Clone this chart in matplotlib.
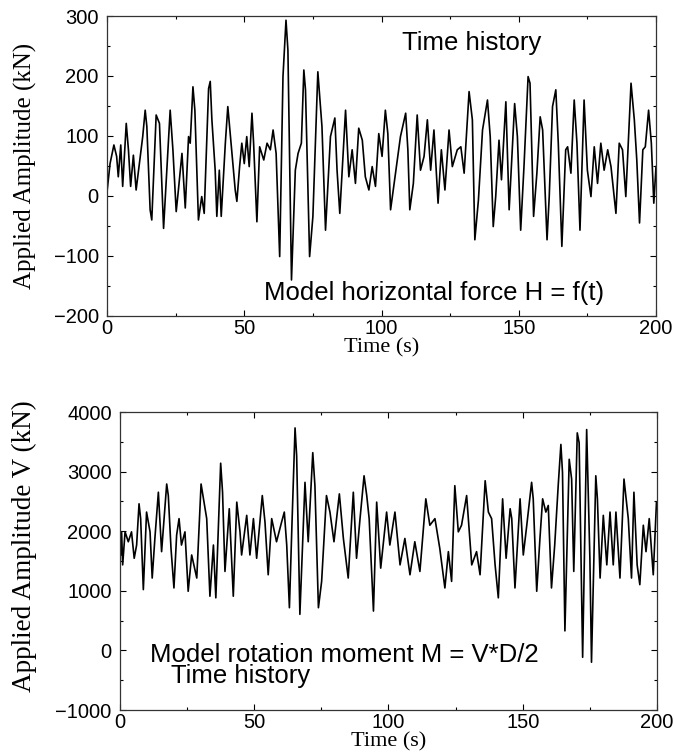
import matplotlib
matplotlib.use('Agg')
import matplotlib.pyplot as plt
from matplotlib.ticker import MultipleLocator

SANS = 'Liberation Sans'
SERIF = 'Liberation Serif'

# horizontal force H = f(t)
h_time = [0, 1.1, 2.5, 3.5, 4.1, 5, 5.7, 7, 7.8, 8.6, 9.6, 10.6, 11.8, 13, 13.9,
          14.5, 15.7, 16.3, 17.9, 19.1, 20.6, 21.5, 23, 24, 25.2, 26, 27.3, 28.5,
          29.7, 30.3, 31.3, 32, 33.3, 34.5, 35.4, 37, 37.6, 38.2, 39.4, 40, 40.9,
          41.6, 43.1, 44, 45.5, 46.7, 47.3, 48.3, 49.1, 50, 50.9, 51.8, 52.8, 53.4,
          54.6, 55.6, 57.1, 58.3, 59.5, 60.5, 61.6, 62.9, 64.1, 65.2, 65.9, 67.2,
          68.6, 69.6, 70.8, 71.7, 72.3, 73.8, 75, 76.8, 78.3, 79.6, 81.4, 83, 83.8,
          84.8, 86.9, 88.1, 89.3, 90.5, 91.7, 93, 94.1, 95.4, 96.6, 97.8, 99, 100.2,
          101.4, 102.3, 103.3, 105.1, 106.9, 108.8, 109.6, 110.3, 111.6, 113, 114.2,
          115.5, 116.7, 117.9, 119.1, 120.6, 121.8, 123.1, 124.6, 125.8, 127.6,
          128.9, 130.1, 131.9, 133.1, 134, 135.3, 136.8, 138.6, 139.6, 140.7, 141.6,
          142.8, 143.7, 145.3, 146.5, 148.5, 149.5, 150.7, 151.9, 153.4, 154.1,
          155.4, 156.6, 157.8, 158.7, 160.3, 161.1, 162.3, 163.5, 164.4, 165.7,
          167.1, 167.8, 169, 170.2, 171.2, 172.3, 173.8, 175, 176.3, 177.5, 178.7,
          179.9, 181.1, 182.4, 183.6, 185.4, 186.6, 187.8, 189, 190.9, 192.1, 193,
          194, 195.2, 196.1, 197.3, 198.3, 199.2, 200]
h_force = [7, 54, 85, 66, 32, 85, 16, 121, 77, 16, 68, 10, 54, 99, 143,
           116, -23, -40, 135, 121, -54, 21, 143, 77, -26, 10, 71, -20,
           99, 88, 182, 143, -40, -1, -29, 179, 191, 127, 43, -34, 43,
           -34, 88, 149, 71, 10, -9, 49, 88, 54, 99, 49, 138, 88,
           -43, 82, 60, 88, 77, 110, 71, -101, 199, 293, 243, -140,
           43, 71, 88, 210, 177, -101, -34, 207, 116, -57, 99, 130, 43,
           -29, 143, 32, 77, 21, 113, 93, 32, 10, 49, 16, 104, 66,
           143, 104, -23, 38, 99, 138, 77, -23, 21, 135, 43,
           66, 127, 43, 110, -12, 77, 10, 110, 49, 77,
           82, 38, 174, 127, -73, -7, 110, 160, 99, -51, -1,
           93, 27, 157, -23, 154, 99, -57, 49, 199, 188,
           -34, 38, 132, 110, -73, -1, 149, 177, 88, -84,
           77, 82, 38, 160, 88, -57, 160, 43, -1, 82, 21,
           88, 43, 77, 49, -29, 88, 77, -1, 188, 127, 60,
           -45, 77, 82, 143, 88, -12, 49]

# vertical load V
v_time = [0.25, 0.6, 1, 1.9, 3.1, 4.3, 5.3, 6.2, 7.1, 7.7, 8.7, 9.9, 11.2, 12, 13,
          14.3, 15.5, 17.4, 18, 19, 20.1, 21.1, 22, 22.9, 24.2, 25.4, 26.7, 28.6,
          30.2, 31.1, 32.3, 33.5, 34.8, 35.7, 37.5, 38.2, 39.1, 40.7, 42.2, 43.5,
          44.7, 45.3, 47.2, 48.4, 49.7, 50.9, 53, 54, 55.2, 56.5, 58.3, 60.2, 61.2,
          62.1, 63.1, 64, 65.2, 65.8, 67, 68.9, 70.1, 71.8, 72.6, 73.9, 75.1, 76.9,
          78.2, 79.7, 81.7, 83.2, 85, 86.9, 88.1, 89.4, 90.9, 91.9, 92.8, 94.4, 95.6,
          97.1, 99.3, 100.5, 102.4, 104.3, 106.1, 108, 109.8, 111.7, 113.9, 115.4,
          117.3, 119.1, 121, 122.3, 123.5, 124.7, 126, 127.2, 129.1, 131, 132.8,
          134.1, 136, 137.2, 138.4, 139.7, 140.9, 142.5, 143.8, 145.3, 145.9, 147.1,
          149, 150.2, 151.5, 153.3, 153.9, 155.2, 156.4, 157.4, 158.6, 159.5, 160.7,
          161.9, 163.2, 164.2, 164.8, 165.7, 167.3, 168.2, 169, 170.3, 171, 172.3,
          173.8, 175, 175.6, 177.2, 177.8, 178.8, 180, 181.3, 182.5, 183.7, 184.7,
          186.2, 187.7, 189.3, 190.5, 191.4, 192.6, 193.6, 194.9, 195.9, 197.1,
          198.6, 199.8]
v_load = [1601, 1989, 1435, 1989, 1823, 1989, 1546, 1768, 2460, 2211, 1020, 2321,
          1989, 1214, 1878, 2654, 1657, 2792, 2598, 1712, 1048, 1934, 2211, 1768,
          1989, 992, 1601, 1214, 2792, 2543, 2211, 909, 1768, 882, 3141, 2654,
          1325, 2377, 909, 2488, 1989, 1601, 2266, 1601, 2211, 1546, 2598, 2155,
          1269, 2211, 1823, 2155, 2321, 1768, 716, 2044, 3733, 3262, 605, 2820,
          1823, 3318, 2764, 716, 1158, 2598, 2321, 1823, 2626, 1878, 1214, 2654,
          1546, 2211, 2930, 2598, 2211, 660, 2488, 1380, 2321, 1768, 2321, 1435,
          1878, 1269, 1823, 1325, 2543, 2100, 2211, 1712, 1048, 1657, 1158, 2764,
          1989, 2100, 2598, 1435, 1657, 1269, 2847, 2321, 2211, 1435, 882, 2543,
          1546, 2377, 2211, 1048, 2543, 1601, 2100, 2820, 2543, 992, 1878, 2543,
          2321, 2432, 1048, 1768, 2764, 3456, 2986, 328, 3207, 2875, 1325, 3650,
          3484, -115, 3705, 1546, -198, 2930, 2543, 1214, 2266, 1435, 2321, 1435,
          2321, 1214, 2875, 2211, 1214, 2654, 1435, 1103, 2100, 1657, 2211, 1269,
          2488]


def style_axes(ax, ymajor, yminor):
	ax.set_xlim(0, 200)
	ax.xaxis.set_major_locator(MultipleLocator(50))
	ax.xaxis.set_minor_locator(MultipleLocator(25))
	ax.yaxis.set_major_locator(MultipleLocator(ymajor))
	ax.yaxis.set_minor_locator(MultipleLocator(yminor))
	ax.tick_params(which='both', direction='in', top=True, right=True,
	               labelsize=14.5, width=0.8)
	ax.tick_params(which='major', length=4)
	ax.tick_params(which='minor', length=2)
	ax.tick_params(axis='x', which='major', pad=2)
	ax.tick_params(axis='y', which='major', pad=6)
	for label in ax.get_xticklabels() + ax.get_yticklabels():
		label.set_fontfamily(SANS)
	for spine in ax.spines.values():
		spine.set_linewidth(0.9)
		spine.set_color('#333333')
	ax.set_xlabel('Time (s)', fontfamily=SERIF, fontsize=16, labelpad=0)


fig = plt.figure(figsize=(6.74, 7.55), dpi=100)

top = fig.add_axes([0.1588, 0.5815, 0.8145, 0.3973])
top.plot(h_time, h_force, color='black', linewidth=1.2)
top.set_ylim(-200, 300)
style_axes(top, 100, 50)
top.set_ylabel('Applied Amplitude (kN)', fontfamily=SERIF, fontsize=18, labelpad=12)
top.text(133, 255, 'Time history', fontfamily=SANS, fontsize=18.5,
         ha='center', va='center')
top.text(119, -162, 'Model horizontal force H = f(t)', fontfamily=SANS,
         fontsize=18.5, ha='center', va='center')

bottom = fig.add_axes([0.178, 0.0596, 0.7968, 0.3947])
bottom.plot(v_time, v_load, color='black', linewidth=1.2)
bottom.set_ylim(-1000, 4000)
style_axes(bottom, 1000, 500)
bottom.set_ylabel('Applied Amplitude V (kN)', fontfamily=SERIF, fontsize=19.5)
bottom.yaxis.set_label_coords(-0.155, 0.55)
bottom.text(11, -250, 'Model rotation moment M = V*D/2\n   Time history',
            fontfamily=SANS, fontsize=18.5, ha='left', va='center',
            linespacing=0.85)

fig.savefig('out.png', dpi=100)
